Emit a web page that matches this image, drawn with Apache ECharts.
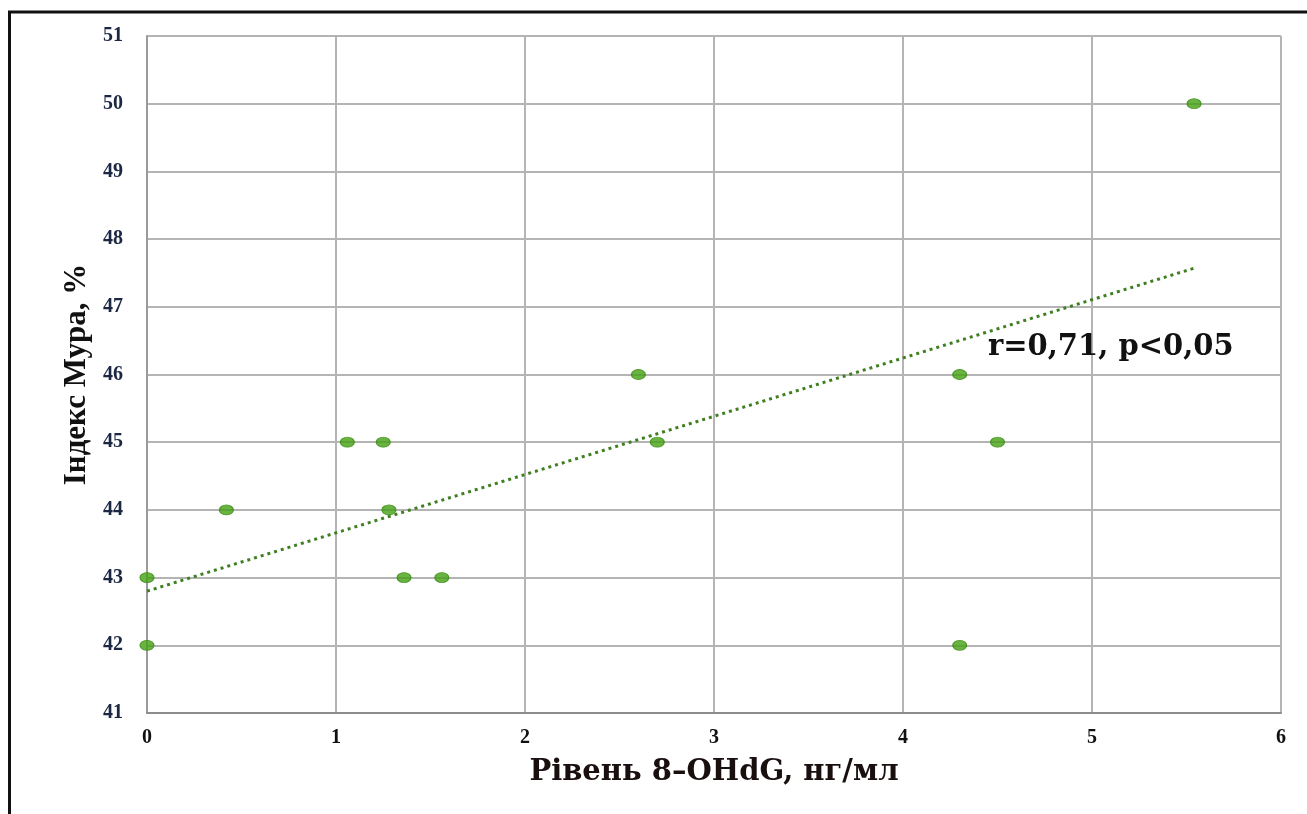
<!DOCTYPE html>
<html>
<head>
<meta charset="utf-8">
<script src="https://cdn.jsdelivr.net/npm/echarts@6/dist/echarts.min.js"></script>
<style>
html,body{margin:0;padding:0;background:#fff;}
#c{width:1307px;height:814px;}
</style>
</head>
<body>
<div id="c"></div>
<script>
// Data
var xValues = [0, 0, 0.42, 1.06, 1.25, 1.28, 1.36, 1.56, 2.6, 2.7, 4.3, 4.5, 4.3, 5.54];
var yValues = [43, 42, 44, 45, 45, 44, 43, 43, 46, 45, 46, 45, 42, 50];
var trendX = [0, 5.54];
var trendY = [42.8, 47.57];
var xTitle = 'Рівень 8–OHdG, нг/мл';
var yTitle = 'Індекс Мура, %';
var annotation = 'r=0,71, p<0,05';

var points = xValues.map(function (x, i) { return [x, yValues[i]]; });
var trend = trendX.map(function (x, i) { return [x, trendY[i]]; });

var chart = echarts.init(document.getElementById('c'));
chart.setOption({
  animation: false,
  backgroundColor: '#fff',
  grid: { left: 147, right: 26, top: 36, bottom: 101 },
  xAxis: {
    type: 'value', min: 0, max: 6, interval: 1,
    name: xTitle, nameLocation: 'middle', nameGap: 45,
    nameTextStyle: { fontFamily: 'DejaVu Serif', fontWeight: 'bold', fontSize: 29, color: '#1a0f0f' },
    axisLine: { lineStyle: { color: '#8c8c8c', width: 2 } },
    axisTick: { show: false },
    axisLabel: { margin: 15, fontFamily: 'Liberation Serif', fontWeight: 'bold', fontSize: 20, color: '#111' },
    splitLine: { lineStyle: { color: '#b4b4b4', width: 2 } }
  },
  yAxis: {
    type: 'value', min: 41, max: 51, interval: 1,
    name: yTitle, nameLocation: 'middle', nameGap: 54, nameRotate: 90,
    nameTextStyle: { fontFamily: 'Liberation Serif', fontWeight: 'bold', fontSize: 31, color: '#111' },
    axisLine: { show: true, lineStyle: { color: '#9a9a9a', width: 2 } },
    axisTick: { show: false },
    axisLabel: { margin: 24, fontFamily: 'Liberation Serif', fontWeight: 'bold', fontSize: 20, color: '#1c2744' },
    splitLine: { lineStyle: { color: '#b4b4b4', width: 2 } }
  },
  graphic: [
    { type: 'rect', shape: { x: 9.5, y: 12, width: 1400, height: 900 }, style: { fill: 'none', stroke: '#111', lineWidth: 3 }, z: 100 },
    { type: 'text', left: 988, top: 333, style: { text: annotation, fontFamily: 'DejaVu Serif', fontWeight: 'bold', fontSize: 29, fill: '#111' }, z: 100 }
  ],
  series: [
    {
      type: 'line', data: trend, symbol: 'none', silent: true,
      lineStyle: { color: '#3f7f22', width: 3, type: [3, 4] }, z: 2
    },
    {
      type: 'scatter', data: points, symbol: 'circle', symbolSize: [14, 10],
      itemStyle: { color: '#42a012', borderColor: '#378a10', borderWidth: 1 }, z: 3
    }
  ]
});
</script>
</body>
</html>
